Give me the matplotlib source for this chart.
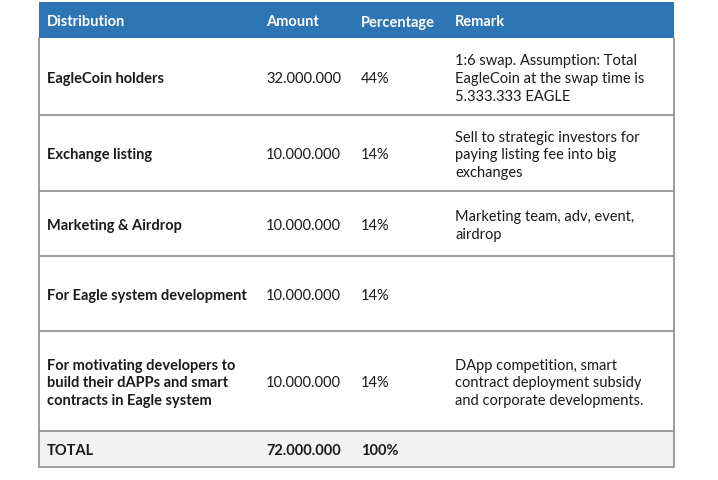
import matplotlib
matplotlib.use("Agg")
import matplotlib.pyplot as plt
from matplotlib.patches import Rectangle

plt.rcParams['font.family'] = ['Lato', 'DejaVu Sans']

headers = ["Distribution", "Amount", "Percentage", "Remark"]
distribution = [
    "EagleCoin holders",
    "Exchange listing",
    "Marketing & Airdrop",
    "For Eagle system development",
    "For motivating developers to\nbuild their dAPPs and smart\ncontracts in Eagle system",
]
amounts = ["32.000.000", "10.000.000", "10.000.000", "10.000.000", "10.000.000"]
percentages = ["44%", "14%", "14%", "14%", "14%"]
remarks = [
    "1:6 swap. Assumption: Total\nEagleCoin at the swap time is\n5.333.333 EAGLE",
    "Sell to strategic investors for\npaying listing fee into big\nexchanges",
    "Marketing team, adv, event,\nairdrop",
    "",
    "DApp competition, smart\ncontract deployment subsidy\nand corporate developments.",
]
total_label = "TOTAL"
total_amount = "72.000.000"
total_pct = "100%"

# layout (pixels)
W, H = 718, 481
left, right = 39, 674
header_top, header_bot = 3, 39
row_edges = [39, 116, 192, 257, 332, 432]
total_bot = 468
col_x = [47, 266, 361, 455]

fig = plt.figure(figsize=(W / 100, H / 100), dpi=100)
ax = fig.add_axes([0, 0, 1, 1])
ax.set_xlim(0, W)
ax.set_ylim(H, 0)
ax.axis('off')

header_color = "#2E75B6"
line_color = "#8C8C8C"
text_color = "#1A1A1A"
fs = 10.5

ax.add_patch(Rectangle((left, header_top), right - left, header_bot - header_top,
                       facecolor=header_color, edgecolor='none'))
for x, h in zip(col_x, headers):
    ax.text(x, (header_top + header_bot) / 2 + 1.5, h, color='white', fontsize=fs,
            fontweight='bold', va='center', ha='left')

ax.add_patch(Rectangle((left, row_edges[-1]), right - left, total_bot - row_edges[-1],
                       facecolor="#F2F2F2", edgecolor='none'))

for i in range(len(distribution)):
    yc = (row_edges[i] + row_edges[i + 1]) / 2 + 1.5
    vals = [distribution[i], amounts[i], percentages[i], remarks[i]]
    for j, (x, v) in enumerate(zip(col_x, vals)):
        if not v:
            continue
        ax.text(x, yc, v, color=text_color, fontsize=fs, va='center', ha='left',
                fontweight='bold' if j == 0 else 'normal', linespacing=1.32)

yc = (row_edges[-1] + total_bot) / 2 + 1.5
for x, v in zip(col_x, [total_label, total_amount, total_pct]):
    ax.text(x, yc, v, color=text_color, fontsize=fs, va='center', ha='left',
            fontweight='bold')

# horizontal lines
for y in row_edges[1:] + [total_bot]:
    ax.plot([left, right], [y, y], color=line_color, lw=1.2, solid_capstyle='butt')
# vertical outer borders
ax.plot([left, left], [header_bot, total_bot], color=line_color, lw=1.2)
ax.plot([right, right], [header_bot, total_bot], color=line_color, lw=1.2)

fig.savefig("out.png", dpi=100, facecolor='white')
